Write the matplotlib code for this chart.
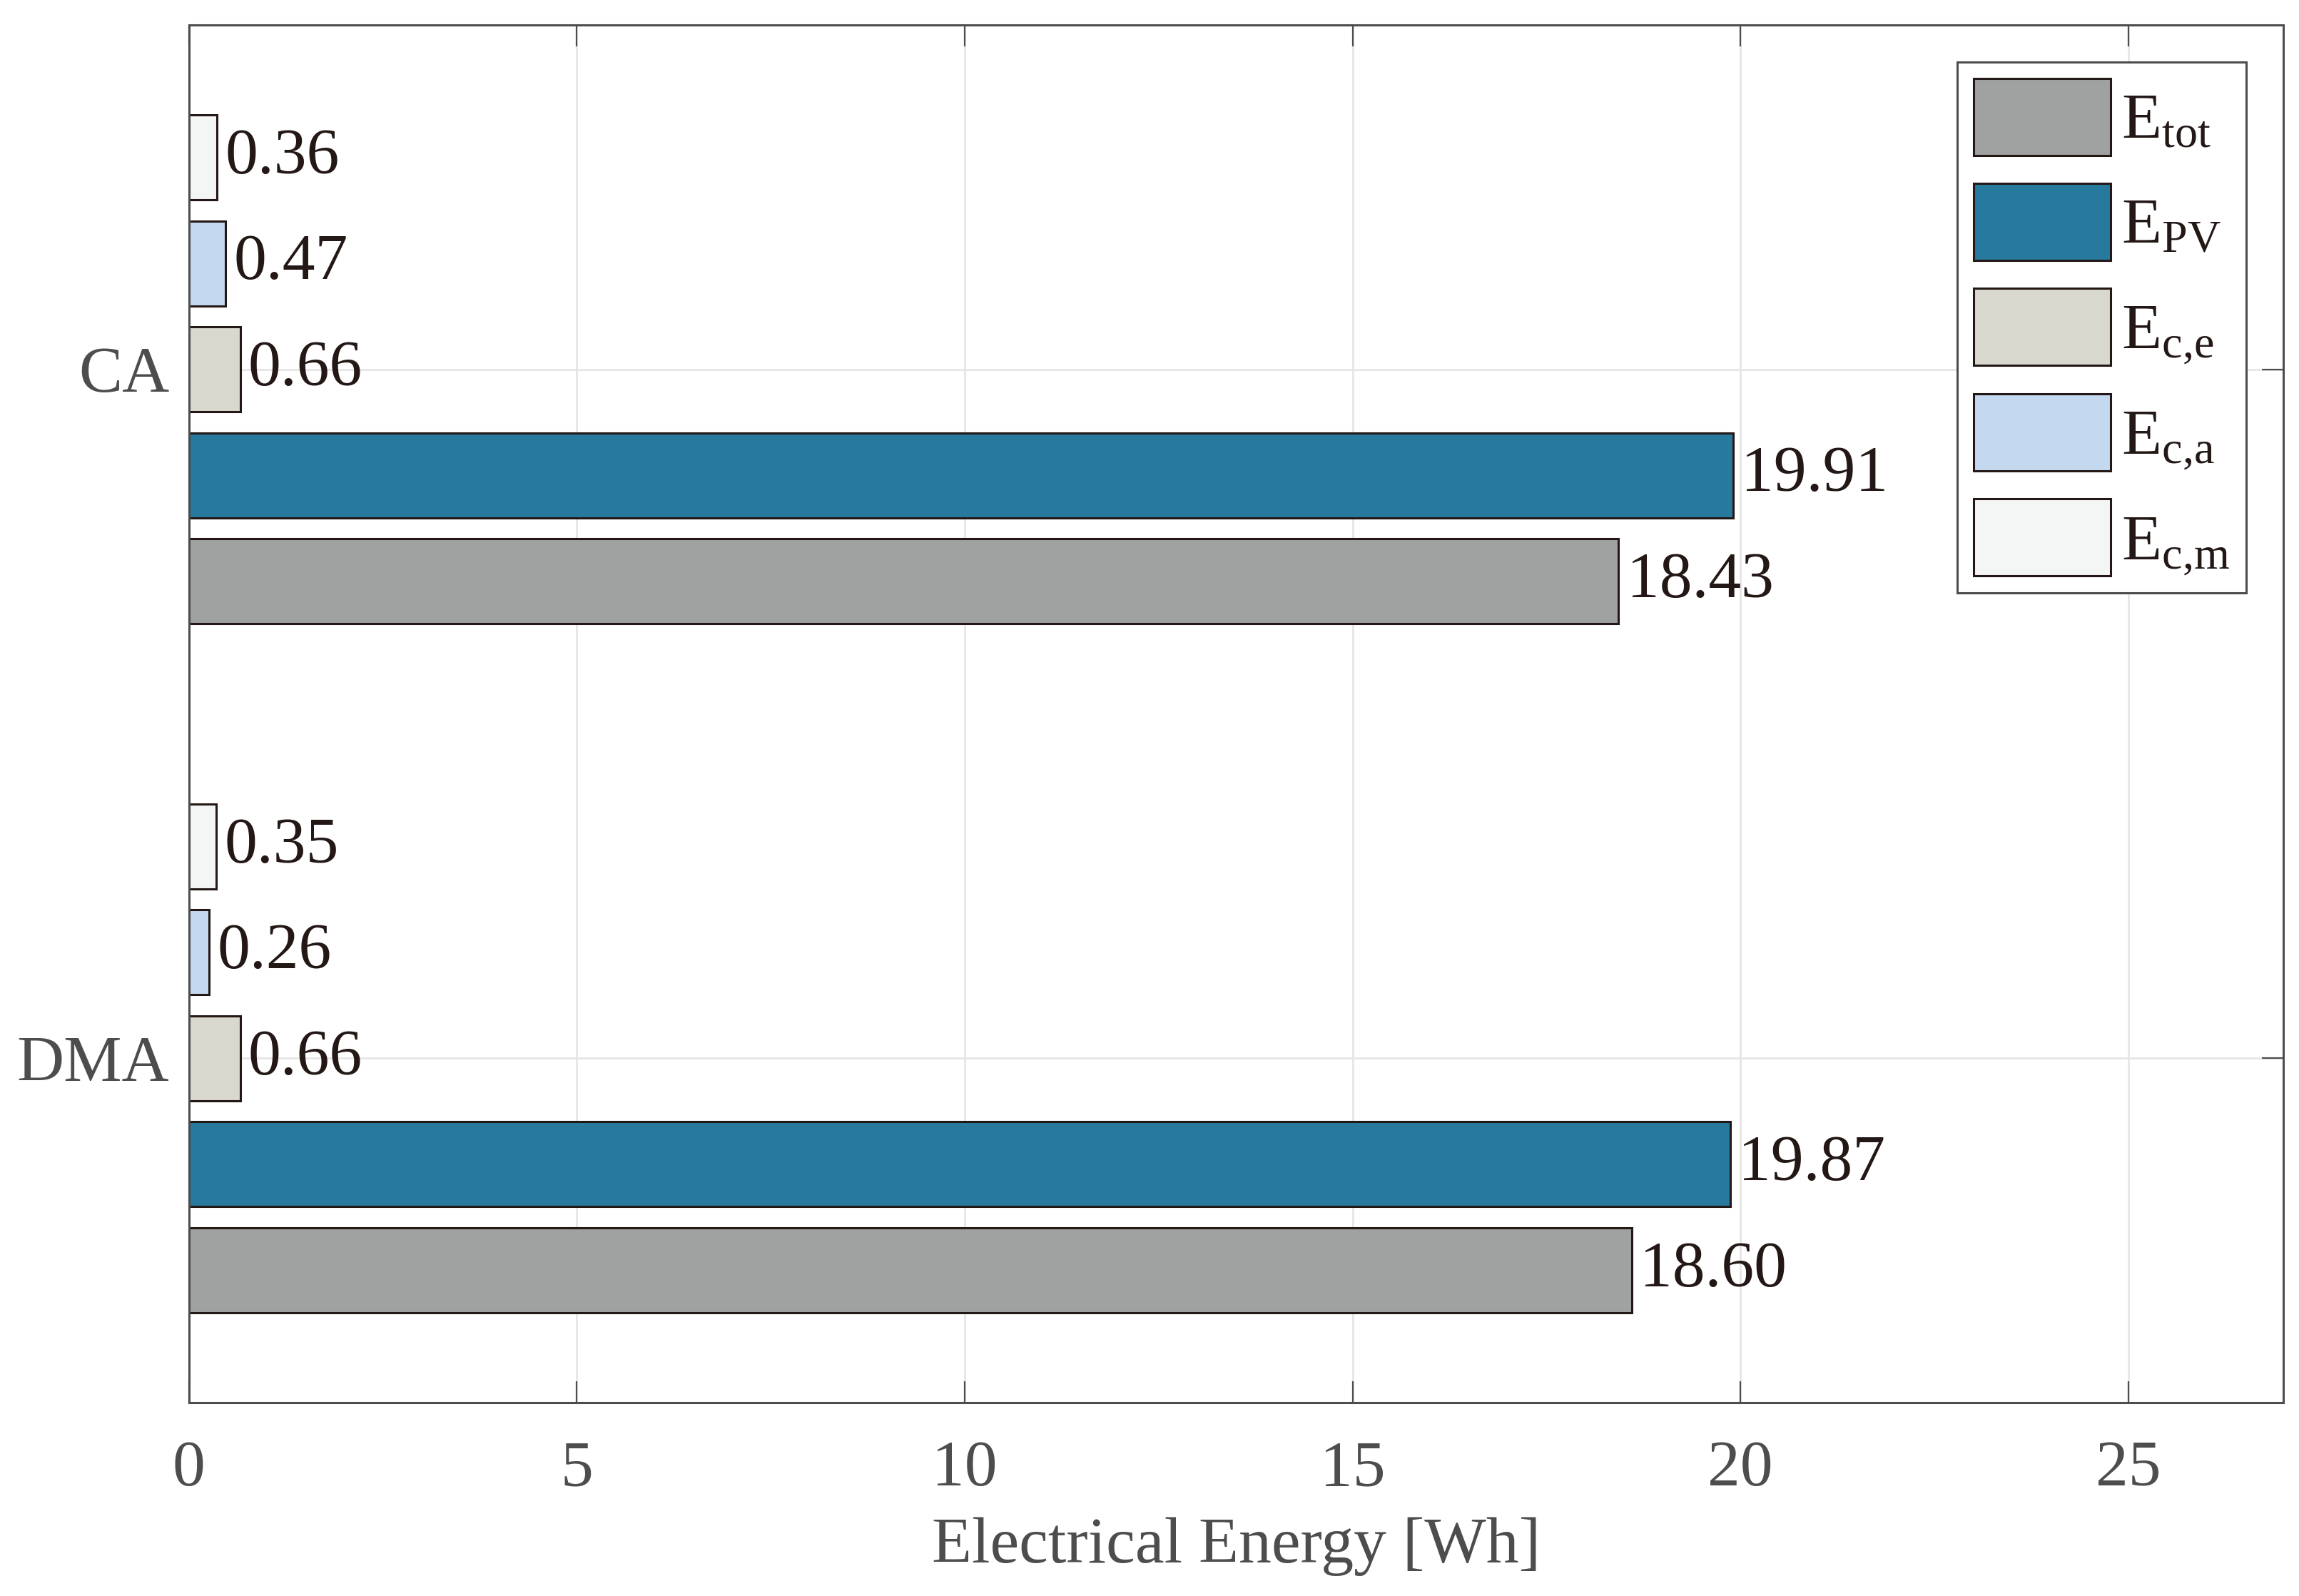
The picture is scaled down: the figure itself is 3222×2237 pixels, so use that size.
import matplotlib
matplotlib.use("Agg")
import matplotlib.pyplot as plt
import numpy as np

# ---- data ----
categories = ["DMA", "CA"]
series_labels = [r"E$_{\mathrm{tot}}$", r"E$_{\mathrm{PV}}$", r"E$_{\mathrm{c{,}e}}$",
                 r"E$_{\mathrm{c{,}a}}$", r"E$_{\mathrm{c{,}m}}$"]
E_tot = [18.60, 18.43]
E_PV = [19.87, 19.91]
E_ce = [0.66, 0.66]
E_ca = [0.26, 0.47]
E_cm = [0.35, 0.36]
series_values = [E_tot, E_PV, E_ce, E_ca, E_cm]
series_colors = ["#A0A2A1", "#28799E", "#D9D8CE", "#C4D8EF", "#F4F6F5"]
xticks = [0, 5, 10, 15, 20, 25]

plt.rcParams["font.family"] = ["Liberation Serif", "DejaVu Serif"]
plt.rcParams["mathtext.fontset"] = "custom"
plt.rcParams["mathtext.rm"] = "Liberation Serif"
plt.rcParams["mathtext.it"] = "Liberation Serif:italic"
plt.rcParams["mathtext.bf"] = "Liberation Serif:bold"

FS = 33
axis_gray = "#4D4D4D"
edge = "#231815"

fig = plt.figure(figsize=(16.115, 11.185), dpi=200)
ax = fig.add_axes([0.0822, 0.1211, 0.9107, 0.8633])

n = len(series_values)
pitch = 0.1538
height = 0.123
ypos = np.arange(1, len(categories) + 1)
for i, (vals, col, lab) in enumerate(zip(series_values, series_colors, series_labels)):
    off = (i - (n - 1) / 2) * pitch
    bars = ax.barh(ypos + off, vals, height=height, color=col, edgecolor=edge,
                   linewidth=1.1, label=lab, zorder=3)
    ax.bar_label(bars, labels=[f"{v:.2f}" for v in vals], padding=4,
                 fontsize=FS, color=edge, zorder=4)

ax.set_xlim(0, 27)
ax.set_ylim(0.5, 2.5)
ax.set_xticks(xticks)
ax.set_yticks(ypos)
ax.set_yticklabels(categories)
ax.grid(True, color="#E6E6E6", linewidth=1.0, zorder=0)
ax.set_axisbelow(True)

for s in ax.spines.values():
    s.set_color(axis_gray)
    s.set_linewidth(1.1)
    s.set_zorder(5)

ax.tick_params(axis="both", which="major", direction="in", length=10.8, width=0.8,
               color=axis_gray, labelcolor=axis_gray, labelsize=FS,
               top=True, right=True)
ax.tick_params(axis="x", pad=19)
ax.tick_params(axis="y", pad=10)
ax.set_xlabel("Electrical Energy [Wh]", fontsize=FS, color=axis_gray, labelpad=9)

leg = ax.legend(loc="upper right", bbox_to_anchor=(1, 1), borderaxespad=0.57,
                fontsize=FS, handlelength=2.1, handleheight=1.43,
                handletextpad=0.16, labelspacing=0.43, borderpad=0.25,
                fancybox=False, framealpha=1, edgecolor=axis_gray)
leg.get_frame().set_linewidth(1.1)
for t in leg.get_texts():
    t.set_color(edge)

fig.savefig("out.png", dpi=200)
